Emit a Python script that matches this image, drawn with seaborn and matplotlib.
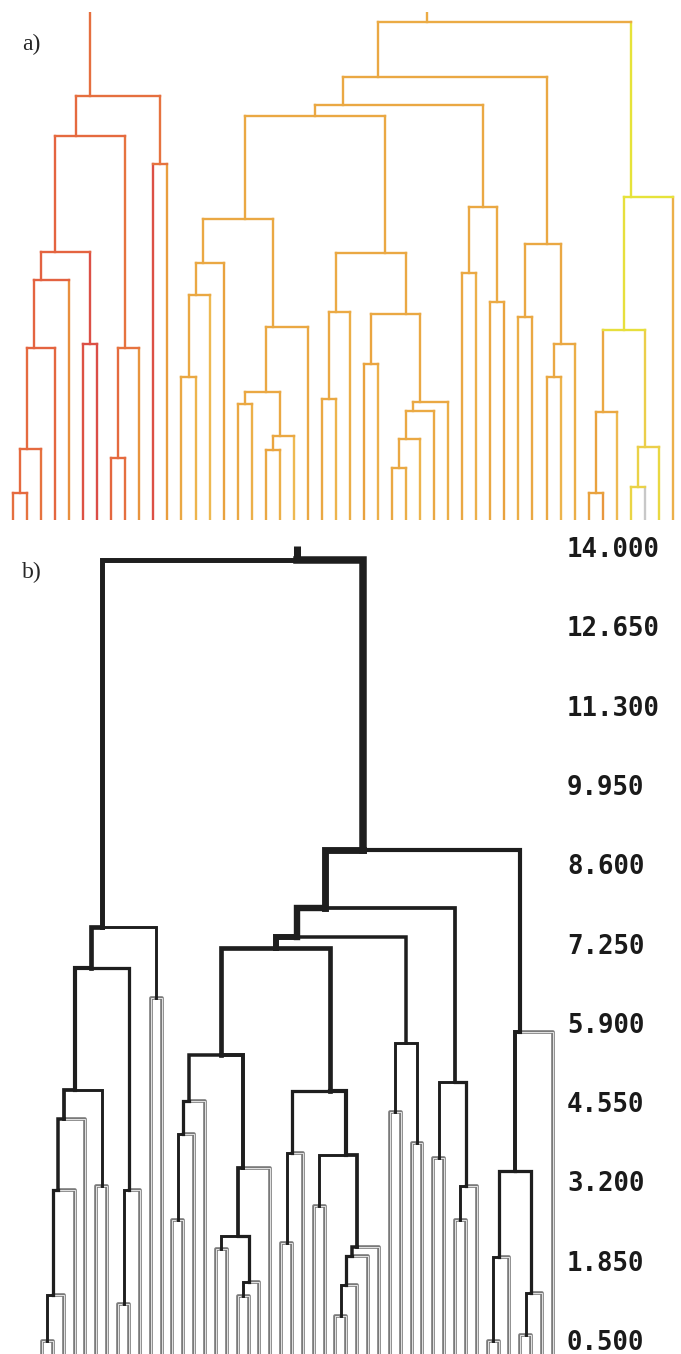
import numpy as np
import pandas as pd
import matplotlib
matplotlib.use("Agg")
import matplotlib.pyplot as plt
import matplotlib.patheffects as pe
import seaborn as sns

# leaves are numbered 0..47 in the drawn order, merges get ids 48, 49, ...
n_leaves = 48

left = [0, 48, 49, 50, 5, 51, 7, 54, 53, 10, 56,
        12, 59, 60,
        16, 18, 63, 62, 65, 61,
        22, 68, 25, 27, 71, 72, 73, 70, 69, 67,
        32, 34, 78, 77,
        36, 38, 83, 82, 81,
        41, 87, 44, 89, 88, 91, 86, 58]
right = [1, 2, 3, 4, 6, 52, 8, 9, 55, 11, 57,
         13, 14, 15,
         17, 19, 20, 64, 21, 66,
         23, 24, 26, 28, 29, 30, 31, 74, 75, 76,
         33, 35, 79, 80,
         37, 39, 40, 84, 85,
         42, 43, 45, 46, 90, 47, 92, 93]
height = [0.478, 1.267, 3.055, 4.265, 3.126, 4.756, 1.109, 3.055, 6.826, 6.317, 7.527,
          2.547, 4.002, 4.563,
          2.056, 1.249, 1.495, 2.266, 3.424, 5.353,
          2.144, 3.687, 2.775, 0.916, 1.442, 1.933, 2.091, 3.652, 4.739, 7.176,
          4.388, 3.862, 5.563, 7.369,
          3.599, 2.547, 3.126, 4.897, 7.860,
          0.478, 1.916, 0.583, 1.302, 3.371, 5.738, 8.842, 13.78]

# colour shade of each merge / leaf in panel a (0 = red, 1 = yellow, nan = grey)
merge_shade = [0.26, 0.26, 0.22, 0.2, 0.06, 0.22, 0.26, 0.3, 0.26, 0.3, 0.28,
               0.55, 0.55, 0.55,
               0.55, 0.52, 0.55, 0.55, 0.55, 0.55,
               0.55, 0.57, 0.52, 0.55, 0.55, 0.57, 0.55, 0.55, 0.55, 0.55,
               0.55, 0.57, 0.55, 0.55,
               0.55, 0.55, 0.55, 0.55, 0.55,
               0.5, 0.55, 0.88, 0.85, 0.97, 1.0, 0.58, 0.4]
leaf_shade = [0.28, 0.3, 0.3, 0.24, 0.42, 0.08, 0.04, 0.24, 0.28, 0.44, 0.06, 0.48,
              0.55, 0.65, 0.7, 0.5,
              0.55, 0.62, 0.55, 0.62, 0.7, 0.55,
              0.55, 0.65, 0.6, 0.5, 0.62, 0.55, 0.6, 0.65, 0.55, 0.6,
              0.55, 0.62, 0.55, 0.5,
              0.6, 0.55, 0.55, 0.65, 0.6,
              0.5, 0.45, 0.7, 0.9, np.nan, 0.92, 0.62]

tick_values = [0.5, 1.85, 3.2, 4.55, 5.9, 7.25, 8.6, 9.95, 11.3, 12.65, 14.0]
tick_labels = ["0.500", "1.850", "3.200", "4.550", "5.900", "7.250",
               "8.600", "9.950", "11.300", "12.650", "14.000"]

# ---- build the tree ----
links = pd.DataFrame({"left": left, "right": right, "height": height, "shade": merge_shade})
n_nodes = n_leaves + len(links)
node_x = np.zeros(n_nodes)
node_h = np.zeros(n_nodes)
node_n = np.zeros(n_nodes)
node_shade = np.zeros(n_nodes)
parent = np.full(n_nodes, -1)
node_x[:n_leaves] = np.arange(n_leaves)
node_n[:n_leaves] = 1
node_shade[:n_leaves] = leaf_shade

for k, row in links.iterrows():
    i = n_leaves + k
    a, b = int(row["left"]), int(row["right"])
    node_n[i] = node_n[a] + node_n[b]
    node_x[i] = (node_x[a] * node_n[a] + node_x[b] * node_n[b]) / node_n[i]
    node_h[i] = row["height"]
    node_shade[i] = row["shade"]
    parent[a] = i
    parent[b] = i
root = n_nodes - 1

cmap = sns.blend_palette(["#d94848", "#e5683f", "#e9a23e", "#efbf55", "#e6e33a"], as_cmap=True)

sns.set_style("white")
fig = plt.figure(figsize=(6.81, 13.54), dpi=100)
H = 1354.0
W = 681.0

# ---- a) coloured dendrogram ----
ax_a = fig.add_axes([0, (H - 520) / H, 1, 508 / H])
for i in range(n_nodes):
    col = cmap(node_shade[i]) if not np.isnan(node_shade[i]) else "#c8c8c8"
    top = node_h[parent[i]] if parent[i] >= 0 else node_h[i] + 2
    ax_a.plot([node_x[i], node_x[i]], [node_h[i], top], color=col, lw=1.7,
              solid_capstyle="projecting")
    if i >= n_leaves:
        a, b = left[i - n_leaves], right[i - n_leaves]
        ax_a.plot([node_x[a], node_x[b]], [node_h[i], node_h[i]], color=col, lw=1.7,
                  solid_capstyle="projecting")
ax_a.set_xlim(-13 / 14.04, (W - 13) / 14.04)
ax_a.set_ylim(0, 9.02)
ax_a.axis("off")

# ---- b) black dendrogram, width by cluster size ----
ax_b = fig.add_axes([0, 0, 560 / W, (H - 530) / H])
leaf_fx = [pe.withStroke(linewidth=2.6, foreground="#7a7a7a")]
for i in range(n_nodes - 1):
    p = parent[i]
    xs = [node_x[p], node_x[i], node_x[i]]
    ys = [node_h[p], node_h[p], node_h[i]]
    if i < n_leaves:
        ax_b.plot(xs, ys, color="#e4e4e4", lw=0.7, zorder=2, path_effects=leaf_fx)
    else:
        lw = (1.5 + np.sqrt(node_n[i])) * 0.72
        ax_b.plot(xs, ys, color="#1e1e1e", lw=lw, zorder=3,
                  solid_joinstyle="miter", solid_capstyle="projecting")
ax_b.plot([node_x[root], node_x[root]], [node_h[root], 14.02], color="#1e1e1e",
          lw=(1.5 + np.sqrt(node_n[root])) * 0.6, zorder=3, solid_capstyle="butt")
ax_b.set_xlim(-42 / 10.87, (560 - 42) / 10.87)
ax_b.set_ylim(0.262, 14.29)
for s in ax_b.spines.values():
    s.set_visible(False)
ax_b.set_xticks([])
ax_b.yaxis.tick_right()
ax_b.set_yticks(tick_values)
ax_b.set_yticklabels(tick_labels, family="DejaVu Sans Mono", fontweight="bold",
                     fontsize=18.5, color="#1a1a1a")
ax_b.tick_params(axis="y", length=0, pad=5)

fig.text(22 / W, 1 - 44 / H, "a)", family="Liberation Serif", fontsize=17,
         va="center", ha="left")
fig.text(22 / W, 1 - 572 / H, "b)", family="Liberation Serif", fontsize=17,
         va="center", ha="left")

fig.savefig("out.png", dpi=100)
